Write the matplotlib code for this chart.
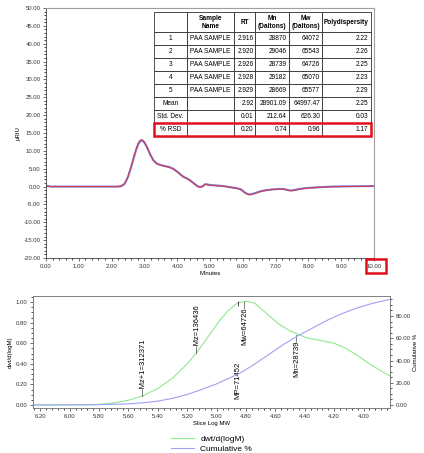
import numpy as np
import matplotlib
matplotlib.use("Agg")
import matplotlib.pyplot as plt
from matplotlib.ticker import MultipleLocator, FormatStrFormatter
from matplotlib.patches import Rectangle

plt.rcParams['font.family'] = ['Liberation Sans', 'DejaVu Sans']

# chromatogram (minutes, uRIU)
trace_time = [0.00, 0.15, 2.20, 2.30, 2.40, 2.50, 2.60, 2.70, 2.76, 2.82, 2.87, 2.91, 2.95,
              3.00, 3.05, 3.10, 3.17, 3.27, 3.37, 3.48, 3.60, 3.75, 3.88, 4.00, 4.10, 4.20,
              4.30, 4.40, 4.50, 4.62, 4.70, 4.78, 4.85, 4.92, 5.00, 5.20, 5.40, 5.60, 5.80,
              5.95, 6.05, 6.15, 6.22, 6.35, 6.50, 6.70, 6.90, 7.10, 7.25, 7.35, 7.45,
              7.55, 7.70, 7.90, 8.20, 8.60, 9.00, 10.00]
trace_red = [0.2, 0.0, 0.0, 0.15, 0.8, 2.8, 5.8, 9.0, 10.9, 12.3, 12.95, 13.15, 13.0,
             12.5, 11.7, 10.7, 9.2, 7.4, 6.4, 6.0, 5.7, 5.4, 4.9, 4.1, 3.3, 2.6,
             2.2, 1.6, 0.9, 0.0, -0.2, 0.0, 0.6, 0.5, 0.35, 0.25, 0.1, -0.2, -0.5,
             -0.9, -1.7, -2.2, -2.3, -2.0, -1.5, -1.1, -0.85, -0.7, -0.75, -0.95, -1.2,
             -1.1, -0.8, -0.5, -0.3, -0.1, 0.0, 0.1]
trace_blue = [0.2, 0.0, 0.0, 0.15, 0.8, 2.7, 5.6, 8.8, 10.6, 12.0, 12.65, 12.85, 12.7,
              12.3, 11.5, 10.6, 9.1, 7.4, 6.5, 6.1, 5.8, 5.5, 5.0, 4.2, 3.4, 2.7,
              2.3, 1.7, 1.0, 0.1, -0.1, 0.1, 0.7, 0.6, 0.45, 0.3, 0.15, -0.15, -0.4,
              -0.8, -1.6, -2.1, -2.2, -1.9, -1.4, -1.0, -0.8, -0.65, -0.7, -0.9, -1.1,
              -1.0, -0.7, -0.45, -0.25, -0.05, 0.05, 0.15]

# results table
col_labels = ["", "Sample\nName", "RT", "Mn\n(Daltons)", "Mw\n(Daltons)", "Polydispersity"]
table_rows = [
    ["1", "PAA SAMPLE", "2.916", "28870", "64072", "2.22"],
    ["2", "PAA SAMPLE", "2.920", "29046", "65543", "2.26"],
    ["3", "PAA SAMPLE", "2.926", "28739", "64726", "2.25"],
    ["4", "PAA SAMPLE", "2.928", "29182", "65070", "2.23"],
    ["5", "PAA SAMPLE", "2.929", "28669", "65577", "2.29"],
    ["Mean", "", "2.92", "28901.09", "64997.47", "2.25"],
    ["Std. Dev.", "", "0.01", "212.64", "626.30", "0.03"],
    ["% RSD", "", "0.20", "0.74", "0.96", "1.17"],
]

# molecular weight distribution
logm_green = [6.25, 5.90, 5.80, 5.70, 5.60, 5.50, 5.40, 5.30, 5.20, 5.13, 5.05, 4.98,
              4.92, 4.86, 4.80, 4.74, 4.66, 4.58, 4.50, 4.45, 4.38, 4.30, 4.20, 4.12,
              4.04, 3.96, 3.88, 3.82]
dwt = [0.0, 0.0, 0.005, 0.02, 0.045, 0.09, 0.16, 0.26, 0.40, 0.52, 0.68, 0.82,
       0.92, 0.99, 1.01, 0.99, 0.89, 0.79, 0.72, 0.69, 0.65, 0.63, 0.60, 0.55,
       0.48, 0.40, 0.33, 0.28]
logm_cum = [6.25, 5.80, 5.60, 5.50, 5.40, 5.30, 5.20, 5.10, 5.00, 4.90, 4.85, 4.75,
            4.65, 4.55, 4.45, 4.35, 4.25, 4.15, 4.05, 3.95, 3.82]
cum_pct = [0.0, 0.3, 1.0, 2.0, 3.5, 6.0, 9.5, 14.0, 19.0, 25.0, 28.0, 36.0,
           45.0, 54.0, 62.0, 69.0, 76.0, 82.0, 87.0, 91.0, 95.0]

fig = plt.figure(figsize=(4.24, 4.53), dpi=100)
W, H = 424.0, 453.0

tick_fs = 4.3
spine_col = '#404040'

# ---- top chromatogram ----
ax = fig.add_axes([46 / W, 1 - 258 / H, 328 / W, 250 / H])
ax.plot(trace_time, trace_blue, color='#7b6fd0', lw=1.5, alpha=0.9)
ax.plot(trace_time, trace_red, color='#c8405a', lw=0.8)
ax.set_xlim(0, 10)
ax.set_ylim(-20, 50)
ax.xaxis.set_major_locator(MultipleLocator(1))
ax.xaxis.set_minor_locator(MultipleLocator(0.2))
ax.yaxis.set_major_locator(MultipleLocator(5))
ax.yaxis.set_minor_locator(MultipleLocator(1))
ax.xaxis.set_major_formatter(FormatStrFormatter('%.2f'))
ax.yaxis.set_major_formatter(FormatStrFormatter('%.2f'))
ax.tick_params(labelsize=tick_fs, length=2.5, width=0.5, pad=1.5, colors='#333333')
ax.tick_params(which='minor', length=1.5, width=0.5)
ax.set_xlabel("Minutes", fontsize=tick_fs, labelpad=2)
ax.set_ylabel("µRIU", fontsize=tick_fs, labelpad=2)
for s in ['left', 'bottom']:
    ax.spines[s].set_color(spine_col)
    ax.spines[s].set_linewidth(0.6)
for s in ['top', 'right']:
    ax.spines[s].set_color('#a0a0a0')
    ax.spines[s].set_linewidth(0.8)

# table in axes coords
col_w = [33, 47, 21, 34, 33, 49]
tbl = ax.table(cellText=table_rows, colLabels=col_labels, colWidths=col_w,
               cellLoc='right', bbox=[(154 - 46) / 328, (258 - 136) / 250, 217 / 328, 124 / 250])
tbl.auto_set_font_size(False)
tbl.set_fontsize(4.7)
for (r, c), cell in tbl.get_celld().items():
    cell.set_linewidth(0.6)
    cell.set_edgecolor('#303030')
    cell.PAD = 0.06
    if r == 0:
        cell.set_height(20)
        cell._loc = 'center'
        cell.get_text().set_ha('center')
        cell.get_text().set_fontweight('bold')
    else:
        cell.set_height(13)
        if c == 0:
            cell._loc = 'center'
            cell.get_text().set_ha('center')
        elif c == 1:
            cell._loc = 'left'
            cell.get_text().set_ha('left')

# red boxes
fig.patches.append(Rectangle((154 / W, 1 - 136 / H), 217 / W, 13 / H, transform=fig.transFigure,
                             fill=False, edgecolor='#e0101a', lw=1.8, zorder=10))
fig.patches.append(Rectangle((366 / W, 1 - 273 / H), 20 / W, 14 / H, transform=fig.transFigure,
                             fill=False, edgecolor='#e0101a', lw=1.8, zorder=10))

# ---- bottom MW distribution ----
ax2 = fig.add_axes([33 / W, 1 - 408 / H, 357 / W, 112 / H])
ax3 = ax2.twinx()
g, = ax2.plot(logm_green, dwt, color='#8fe88f', lw=0.8)
b, = ax3.plot(logm_cum, cum_pct, color='#a0a0f5', lw=0.8)
ax2.set_xlim(6.25, 3.82)
ax2.set_ylim(-0.03, 1.06)
ax3.set_ylim(-2.7, 98)
ax2.xaxis.set_major_locator(MultipleLocator(0.2))
ax2.xaxis.set_minor_locator(MultipleLocator(0.04))
ax2.yaxis.set_major_locator(MultipleLocator(0.2))
ax2.yaxis.set_minor_locator(MultipleLocator(0.05))
ax3.yaxis.set_major_locator(MultipleLocator(20))
ax3.yaxis.set_minor_locator(MultipleLocator(5))
ax2.xaxis.set_major_formatter(FormatStrFormatter('%.2f'))
ax2.yaxis.set_major_formatter(FormatStrFormatter('%.2f'))
ax3.yaxis.set_major_formatter(FormatStrFormatter('%.2f'))
for a in (ax2, ax3):
    a.tick_params(labelsize=tick_fs, length=2.5, width=0.5, pad=1.5, colors='#333333')
    a.tick_params(which='minor', length=1.5, width=0.5)
    for s in a.spines.values():
        s.set_color('#808080')
        s.set_linewidth(0.6)
ax2.set_xlabel("Slice Log MW", fontsize=tick_fs, labelpad=2)
ax2.set_ylabel("dwt/d(logM)", fontsize=tick_fs, labelpad=2)
ax3.set_ylabel("Cumulative %", fontsize=tick_fs, labelpad=2)

lab_fs = 5.5
ax2.text(5.50, 0.085, "—Mz+1=312371", rotation=90, ha='center', va='bottom', fontsize=lab_fs)
ax2.text(5.13, 0.51, "—Mz=136436", rotation=90, ha='center', va='bottom', fontsize=lab_fs)
ax2.text(4.805, 1.02, "Mw=64726—", rotation=90, ha='center', va='top', fontsize=lab_fs)
ax2.text(4.455, 0.70, "Mn=28739—", rotation=90, ha='center', va='top', fontsize=lab_fs)
ax2.text(4.855, 0.06, "MP=71452", rotation=90, ha='center', va='bottom', fontsize=lab_fs)
ax2.vlines([4.855], [0.96], [1.01], color='#303030', lw=0.6)

fig.legend([g, b], ["dwt/d(logM)", "Cumulative %"], loc='upper left',
           bbox_to_anchor=(166 / W, 1 - 430 / H), frameon=False, fontsize=6,
           handlelength=2.8, labelspacing=0.25, handletextpad=0.7, borderpad=0.1)

fig.savefig("out.png", dpi=100)
